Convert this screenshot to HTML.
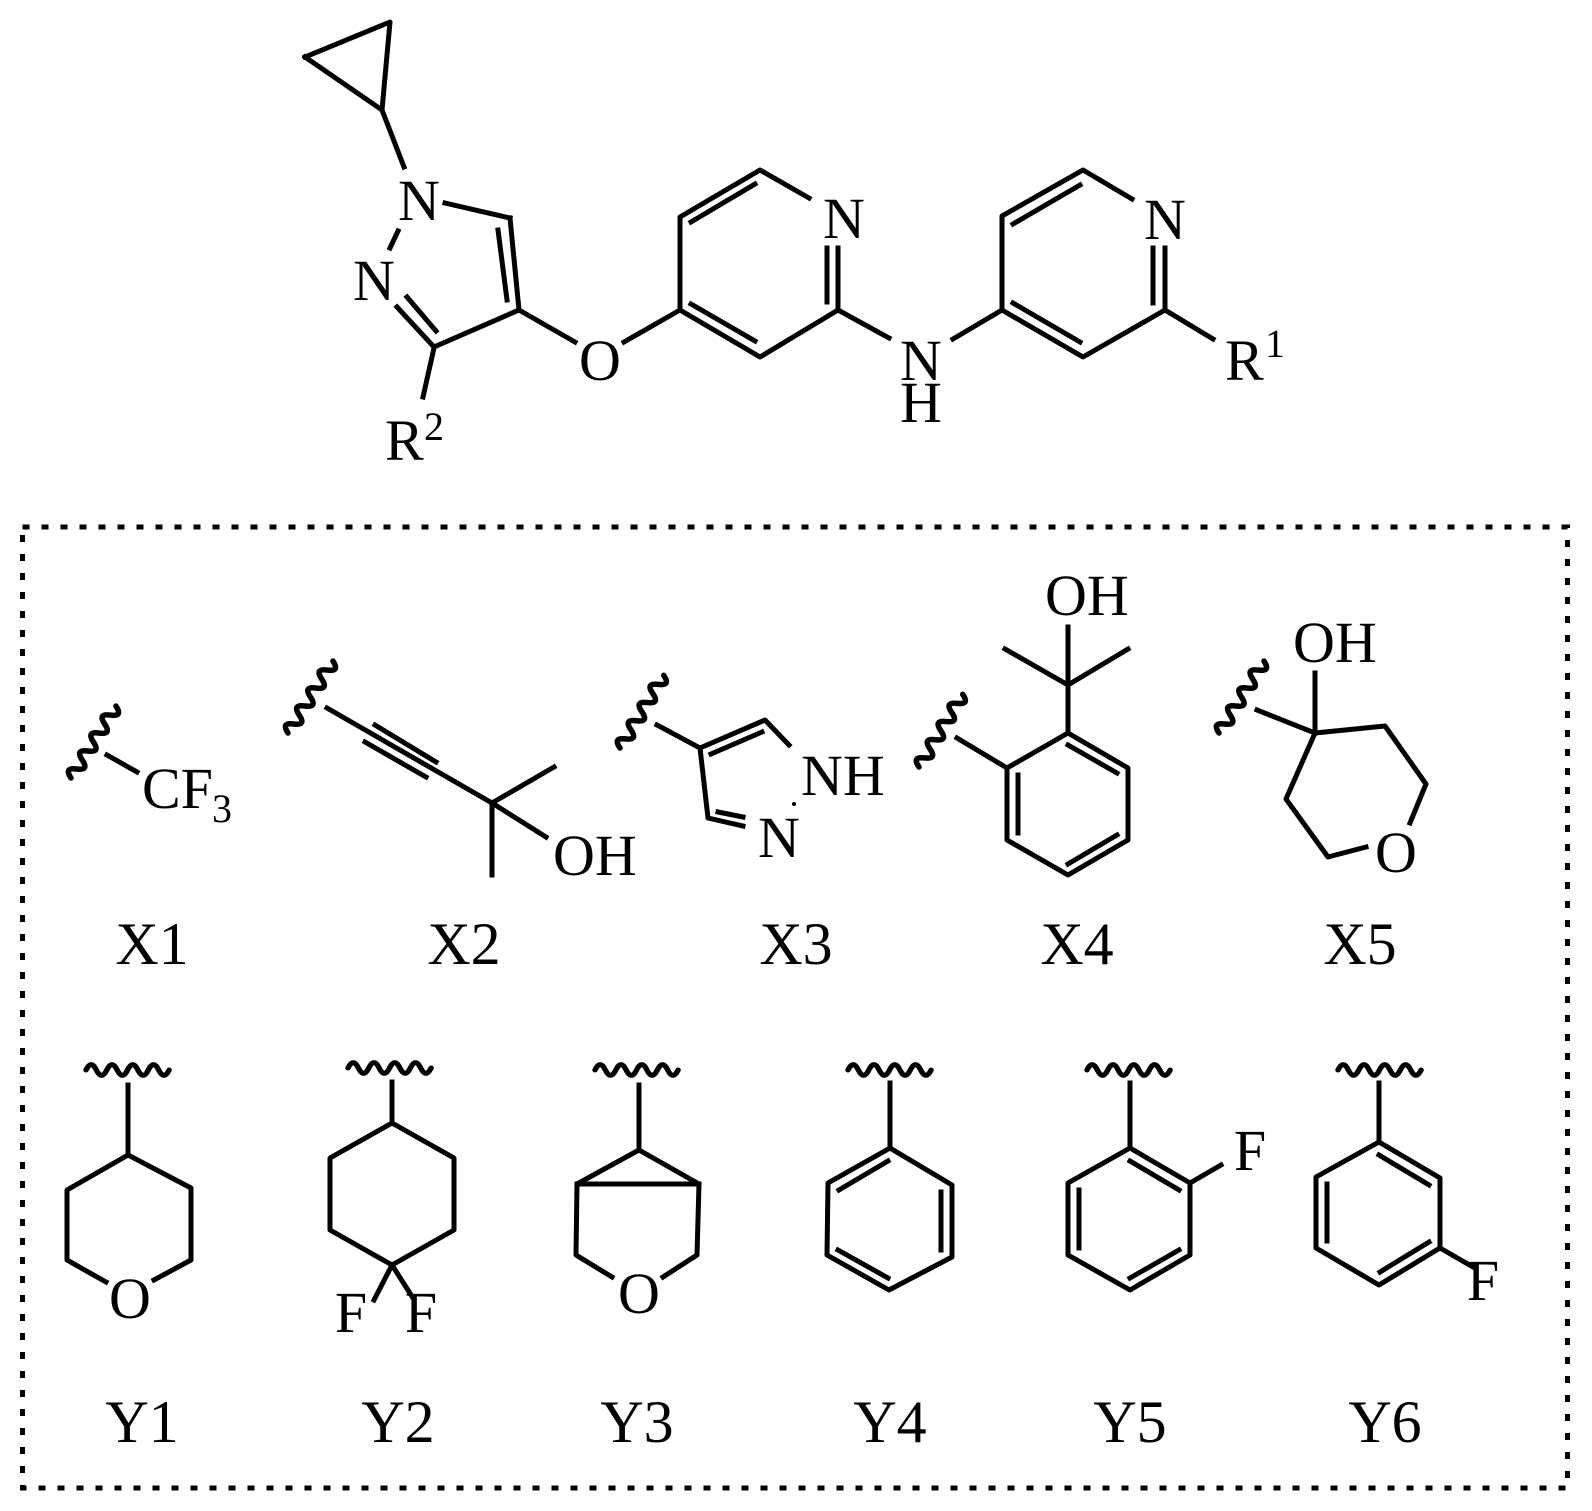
<!DOCTYPE html>
<html><head><meta charset="utf-8"><style>
html,body{margin:0;padding:0;background:#fff;}
svg{display:block;}
text{font-family:"Liberation Serif","Times New Roman",serif;fill:#000;}
</style></head><body>
<svg width="1592" height="1511" viewBox="0 0 1592 1511" xmlns="http://www.w3.org/2000/svg" font-family="Liberation Serif, serif">
<defs>
<path id="wv" d="M0,0 q5.3,-12 10.6,0 t10.6,0 t10.6,0 t10.6,0 t10.6,0 t10.6,0 t10.6,0 t10.6,0" fill="none" stroke="#000" stroke-width="5.5" stroke-linecap="round"/>
</defs>
<g stroke="#000" stroke-width="5" fill="none" stroke-linecap="square" stroke-linejoin="round">
<rect x="22.5" y="527" width="1545" height="961" stroke-dasharray="7 12" stroke-linecap="butt" stroke-linejoin="miter"/>

<polyline points="305,57 390,22 382,110 305,57"/>
<line x1="382" y1="110" x2="404" y2="167"/>
<line x1="445" y1="203" x2="510" y2="218"/>
<line x1="510" y1="218" x2="519" y2="310"/>
<line x1="498" y1="230" x2="507" y2="300"/>
<line x1="398" y1="231" x2="390" y2="248"/>
<line x1="397" y1="307" x2="434" y2="347"/>
<line x1="407" y1="297" x2="436" y2="331"/>
<line x1="434" y1="347" x2="519" y2="310"/>
<line x1="434" y1="348" x2="423" y2="397"/>
<line x1="519" y1="310" x2="575" y2="342"/>
<line x1="624" y1="342" x2="680" y2="310"/>
<polyline points="838,310 760,357 680,310 680,217 760,170 809,198"/>
<line x1="691" y1="222" x2="755" y2="184"/>
<line x1="691" y1="304" x2="755" y2="341"/>
<line x1="838" y1="248" x2="838" y2="310"/>
<line x1="827" y1="248" x2="827" y2="302"/>
<line x1="838" y1="310" x2="889" y2="338"/>
<line x1="953" y1="339" x2="1002" y2="310"/>
<polyline points="1165,310 1083,357 1002,310 1002,216 1083,170 1132,199"/>
<line x1="1013" y1="224" x2="1080" y2="185"/>
<line x1="1013" y1="303" x2="1080" y2="342"/>
<line x1="1165" y1="248" x2="1165" y2="310"/>
<line x1="1153" y1="248" x2="1153" y2="303"/>
<line x1="1165" y1="310" x2="1213" y2="339"/>

<line x1="107" y1="755" x2="137" y2="772"/>
<line x1="327" y1="708" x2="492" y2="803"/>
<line x1="375" y1="725" x2="436" y2="762"/>
<line x1="365" y1="742" x2="426" y2="777"/>
<line x1="492" y1="803" x2="554" y2="767"/>
<line x1="492" y1="803" x2="492" y2="875"/>
<line x1="492" y1="803" x2="546" y2="837"/>
<line x1="657" y1="725" x2="700" y2="748"/>
<polyline points="789,745 765,720 700,748 708,818 743,826"/>
<line x1="711" y1="754" x2="762" y2="732"/>
<line x1="718" y1="812" x2="743" y2="817"/>
<line x1="957" y1="738" x2="1007" y2="768"/>
<polygon points="1007,768 1068,733 1128,768 1128,840 1068,875 1007,840"/>
<line x1="1068" y1="745" x2="1117" y2="773"/>
<line x1="1018" y1="775" x2="1018" y2="833"/>
<line x1="1117" y1="835" x2="1068" y2="864"/>
<line x1="1068" y1="733" x2="1068" y2="685"/>
<line x1="1068" y1="685" x2="1005" y2="649"/>
<line x1="1068" y1="685" x2="1128" y2="649"/>
<line x1="1068" y1="685" x2="1068" y2="627"/>
<line x1="1257" y1="710" x2="1315" y2="733"/>
<line x1="1315" y1="733" x2="1315" y2="673"/>
<polyline points="1410,823 1426,784 1385,726 1315,733 1286,799 1328,857 1366,847"/>

<line x1="128" y1="1085" x2="128" y2="1155"/>
<polyline points="154,1280 191,1260 191,1188 128,1155 67,1190 67,1260 106,1282"/>
<line x1="392" y1="1082" x2="392" y2="1123"/>
<polygon points="392,1123 454,1158 454,1230 392,1265 330,1230 330,1158"/>
<line x1="392" y1="1265" x2="374" y2="1300"/>
<line x1="392" y1="1265" x2="413" y2="1298"/>
<line x1="639" y1="1085" x2="639" y2="1150"/>
<polygon points="639,1150 699,1184 577,1184"/>
<polyline points="577,1184 576,1255 612,1277"/>
<polyline points="699,1184 697,1255 663,1277"/>
<line x1="890" y1="1083" x2="890" y2="1148"/>
<polygon points="890,1148 952,1185 952,1257 889,1290 827,1255 828,1183"/>
<line x1="888" y1="1161" x2="839" y2="1190"/>
<line x1="941" y1="1192" x2="941" y2="1250"/>
<line x1="838" y1="1250" x2="888" y2="1278"/>
<line x1="1130" y1="1083" x2="1130" y2="1148"/>
<polygon points="1130,1148 1190,1183 1190,1255 1130,1290 1068,1255 1068,1183"/>
<line x1="1130" y1="1161" x2="1179" y2="1190"/>
<line x1="1079" y1="1190" x2="1079" y2="1248"/>
<line x1="1179" y1="1250" x2="1130" y2="1278"/>
<line x1="1190" y1="1183" x2="1221" y2="1165"/>
<line x1="1379" y1="1083" x2="1379" y2="1142"/>
<polygon points="1379,1142 1440,1178 1440,1248 1379,1285 1316,1248 1316,1177"/>
<line x1="1379" y1="1155" x2="1429" y2="1185"/>
<line x1="1327" y1="1184" x2="1327" y2="1241"/>
<line x1="1429" y1="1242" x2="1380" y2="1272"/>
<line x1="1440" y1="1248" x2="1473" y2="1267"/>
</g>

<use href="#wv" transform="translate(71,778) rotate(-58)"/>
<use href="#wv" transform="translate(288,733) rotate(-58)"/>
<use href="#wv" transform="translate(620,748) rotate(-59)"/>
<use href="#wv" transform="translate(919,767) rotate(-59)"/>
<use href="#wv" transform="translate(1219,733) rotate(-58)"/>
<use href="#wv" transform="translate(86,1070) scale(0.98,0.9)"/>
<use href="#wv" transform="translate(348,1068) scale(0.98,0.9)"/>
<use href="#wv" transform="translate(595,1070) scale(0.98,0.9)"/>
<use href="#wv" transform="translate(848,1070) scale(0.98,0.9)"/>
<use href="#wv" transform="translate(1087,1070) scale(0.98,0.9)"/>
<use href="#wv" transform="translate(1338,1070) scale(0.98,0.9)"/>

<g font-size="58">
<text x="419" y="220" text-anchor="middle">N</text>
<text x="374" y="300" text-anchor="middle">N</text>
<text x="600" y="380" text-anchor="middle">O</text>
<text x="844" y="238" text-anchor="middle">N</text>
<text x="921" y="380" text-anchor="middle">N</text>
<text x="921" y="422" text-anchor="middle">H</text>
<text x="1165" y="239" text-anchor="middle">N</text>
<text x="1225" y="380">R</text>
<text x="1265" y="357" font-size="40">1</text>
<text x="385" y="460">R</text>
<text x="424" y="440" font-size="40">2</text>
<text x="142" y="808">CF</text>
<text x="212" y="822" font-size="40">3</text>
<text x="553" y="875">OH</text>
<text x="801" y="795">NH</text>
<text x="779" y="857" text-anchor="middle">N</text>
<text x="1045" y="615">OH</text>
<text x="1293" y="662">OH</text>
<text x="1396" y="872" text-anchor="middle">O</text>
<text x="130" y="1318" text-anchor="middle">O</text>
<text x="351" y="1332" text-anchor="middle">F</text>
<text x="421" y="1332" text-anchor="middle">F</text>
<text x="639" y="1313" text-anchor="middle">O</text>
<text x="1250" y="1170" text-anchor="middle">F</text>
<text x="1483" y="1300" text-anchor="middle">F</text>
</g>
<circle cx="794" cy="804" r="2" fill="#000"/>

<g font-size="60" text-anchor="middle">
<text x="152" y="964">X1</text>
<text x="464" y="964">X2</text>
<text x="796" y="964">X3</text>
<text x="1077" y="964">X4</text>
<text x="1360" y="964">X5</text>
<text x="142" y="1442">Y1</text>
<text x="398" y="1442">Y2</text>
<text x="637" y="1442">Y3</text>
<text x="890" y="1442">Y4</text>
<text x="1130" y="1442">Y5</text>
<text x="1385" y="1442">Y6</text>
</g>
</svg>
</body></html>
